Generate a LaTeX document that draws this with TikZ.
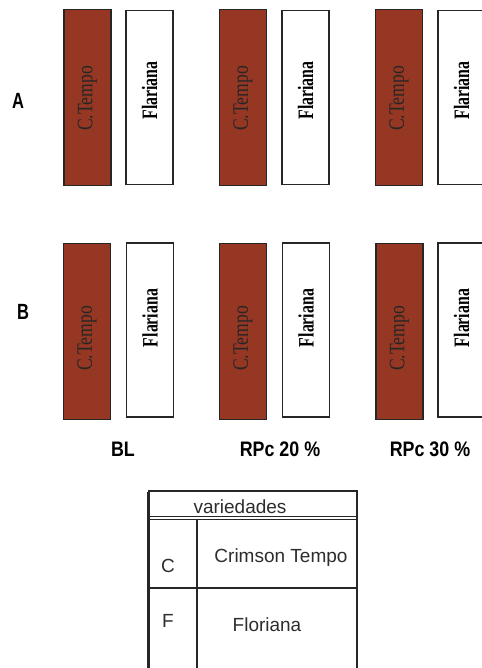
\documentclass[tikz,border=0pt]{standalone}
\usepackage{graphicx}
\usepackage{fontspec}
\setmainfont{Liberation Serif}
\newfontfamily\sansf{Liberation Sans}
\definecolor{brickred}{RGB}{150,55,35}
\definecolor{txtgray}{RGB}{45,45,45}
\begin{document}
\begin{tikzpicture}[x=1pt,y=-1pt,
  cbox/.style={draw=black!85,line width=1.2pt,fill=brickred,minimum width=47pt,minimum height=176pt,inner sep=0pt},
  fbox/.style={draw=black!85,line width=1.2pt,fill=white,minimum width=47pt,minimum height=174pt,inner sep=0pt},
  ctext/.style={rotate=90,inner sep=0pt,text=black!85,font=\fontsize{22}{22}\selectfont},
  ftext/.style={rotate=90,inner sep=0pt,text=black,font=\bfseries\fontsize{22}{22}\selectfont},
  rowlab/.style={inner sep=0pt,font=\sansf\bfseries\fontsize{22}{22}\selectfont},
  collab/.style={inner sep=0pt,font=\sansf\bfseries\fontsize{21}{21}\selectfont},
  tabtext/.style={inner sep=0pt,text=txtgray,font=\sansf\fontsize{19}{19}\selectfont}]
\useasboundingbox (0,0) rectangle (481,668);
\fill[white] (0,0) rectangle (481,668);
% row A
\node[cbox] (ca1) at (87.5,97.5) {};
\node[fbox] (fa1) at (149.5,97.5) {};
\node[cbox] (ca2) at (243,97.5) {};
\node[fbox] (fa2) at (305.5,97.5) {};
\node[cbox] (ca3) at (399,97.5) {};
\node[fbox] (fa3) at (461.5,97.5) {};
% row B
\node[cbox] (cb1) at (87,331.5) {};
\node[fbox] (fb1) at (150,330) {};
\node[cbox] (cb2) at (243,331.5) {};
\node[fbox] (fb2) at (306,330) {};
\node[cbox] (cb3) at (399.5,331.5) {};
\node[fbox] (fb3) at (461.5,330) {};
% texts
\foreach \n in {ca1,ca2,ca3} \node[ctext] at ([yshift=-1pt]\n.center) {\scalebox{0.8}[1]{C.Tempo}};
\foreach \n in {fa1,fa2,fa3} \node[ftext] at ([yshift=7pt]\n.center) {\scalebox{0.72}[1]{Flariana}};
\foreach \n in {cb1,cb2,cb3} \node[ctext] at ([yshift=-7pt]\n.center) {\scalebox{0.8}[1]{C.Tempo}};
\foreach \n in {fb1,fb2,fb3} \node[ftext] at ([yshift=12pt]\n.center) {\scalebox{0.72}[1]{Flariana}};
% row labels
\node[rowlab] (la) at (18,101) {\scalebox{0.75}[1]{A}};
\node[rowlab] (lb) at (23,312) {\scalebox{0.75}[1]{B}};
% column labels
\node[collab] (bl) at (123,449) {\scalebox{0.85}[1]{BL}};
\node[collab] (r20) at (280,449) {\scalebox{0.85}[1]{RPc 20 \%}};
\node[collab] (r30) at (430,449) {\scalebox{0.85}[1]{RPc 30 \%}};
% table
\coordinate (tl) at (148,491);
\coordinate (tr) at (357,491);
\coordinate (bl0) at (148,668);
\coordinate (br) at (357,668);
\draw[line width=1.3pt,black!85] (tl) -- (tr) -- (br);
\draw[line width=3pt,black!85] ([yshift=-1pt]tl) -- (bl0);
\draw[line width=1pt,black!85] (148,516) -- (357,516);
\draw[line width=1pt,black!85] (148,519.5) -- (357,519.5);
\draw[line width=1.2pt,black!85] (197,519.5) -- (197,668);
\draw[line width=1.2pt,black!85] (148,588) -- (357,588);
\node[tabtext] (var) at (240,507) {variedades};
\node[tabtext] (c) at (168,566) {C};
\node[tabtext] (ct) at (281,558) {Crimson Tempo};
\node[tabtext] (f) at (168,621) {F};
\node[tabtext] (fl) at (267,625) {Floriana};
\end{tikzpicture}
\end{document}
